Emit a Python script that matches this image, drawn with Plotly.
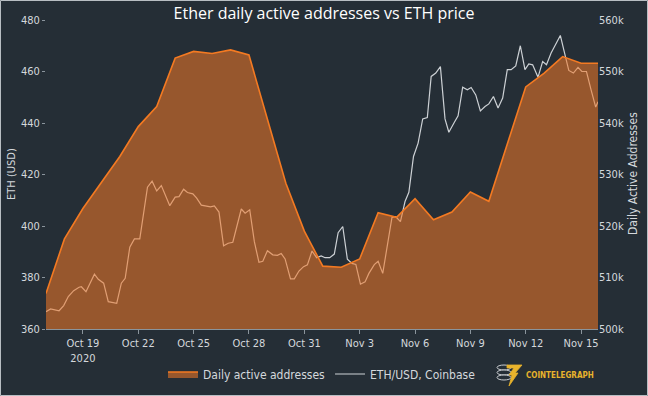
import pandas as pd
import plotly.graph_objects as go

# Daily active addresses (right axis), daily from Oct 17, 2020
daa_dates = ["2020-10-17 00:00", "2020-10-18 00:00", "2020-10-19 00:00", "2020-10-20 00:00", "2020-10-21 00:00",
             "2020-10-22 00:00", "2020-10-23 00:00", "2020-10-24 00:00", "2020-10-25 00:00", "2020-10-26 00:00",
             "2020-10-27 00:00", "2020-10-28 00:00", "2020-10-29 00:00", "2020-10-30 00:00", "2020-10-31 00:00",
             "2020-11-01 00:00", "2020-11-02 00:00", "2020-11-03 00:00", "2020-11-04 00:00", "2020-11-05 00:00",
             "2020-11-06 00:00", "2020-11-07 00:00", "2020-11-08 00:00", "2020-11-09 00:00", "2020-11-10 00:00",
             "2020-11-11 00:00", "2020-11-12 00:00", "2020-11-13 00:00", "2020-11-14 00:00", "2020-11-15 00:00",
             "2020-11-15 22:00"]
daa_values = [506900, 517500, 523400, 528500, 533500, 539300, 543200, 552600, 553900, 553500,
              554200, 553200, 540600, 528300, 519000, 512200, 512000, 513600, 522600, 521700,
              525300, 521200, 522700, 526600, 524800, 535800, 547000, 549700, 552900, 551600,
              551600]

# ETH/USD, Coinbase (left axis): hours after 2020-10-19 00:00 and price
eth_hours = [-48, -42, -31, -25, -19, -12, -5, -2, 4, 15,
             20, 27, 33, 44, 50, 55, 61, 67, 74, 84,
             90, 96, 102, 113, 120, 125, 131, 136, 143, 148,
             154, 166, 171, 177, 183, 189, 195, 206, 211, 217,
             223, 229, 234, 240, 247, 253, 258, 263, 270, 275,
             281, 287, 292, 298, 304, 310, 315, 321, 327, 332,
             338, 344, 350, 355, 361, 367, 372, 379, 384, 390,
             402, 407, 413, 419, 424, 430, 436, 442, 448, 453,
             459, 465, 471, 476, 483, 488, 494, 500, 505, 511,
             517, 523, 528, 534, 540, 546, 552, 557, 563, 569,
             575, 580, 585, 592, 598, 603, 609, 615, 621, 626,
             632, 638, 644, 649, 655, 661, 667, 670]
eth_price = [366.7, 367.8, 367.1, 369.1, 372.6, 374.9, 376.2, 376.4, 374.5, 381.3,
             379.3, 377.8, 370.6, 370.0, 377.8, 379.7, 391.8, 395.0, 395.0, 415.1,
             417.4, 413.6, 415.7, 407.9, 411.2, 411.4, 414.3, 413.0, 412.5, 410.8,
             408.1, 407.4, 407.8, 405.4, 392.3, 393.3, 393.7, 406.6, 405.0, 406.3,
             393.9, 385.9, 386.3, 390.4, 388.8, 388.6, 389.3, 387.2, 379.5, 379.5,
             382.5, 384.2, 384.9, 390.3, 387.7, 388.4, 387.7, 387.7, 389.1, 397.4,
             399.8, 387.1, 385.5, 385.1, 377.4, 378.3, 381.6, 385.0, 386.3, 381.6,
             403.3, 403.6, 401.7, 409.5, 413.1, 427.0, 432.2, 441.6, 442.1, 458.1,
             459.4, 461.9, 441.6, 436.4, 440.2, 442.8, 453.9, 452.9, 453.8, 450.9,
             444.7, 446.4, 447.4, 450.3, 445.8, 449.7, 460.7, 460.7, 462.2, 470.0,
             460.7, 462.9, 462.6, 457.8, 463.9, 462.6, 467.2, 470.8, 474.0, 467.8,
             460.4, 459.4, 461.6, 460.0, 460.0, 452.9, 446.2, 448.3]

left_ticks = [360, 380, 400, 420, 440, 460, 480]
right_ticks = [500000, 510000, 520000, 530000, 540000, 550000, 560000]
right_labels = ["500k", "510k", "520k", "530k", "540k", "550k", "560k"]

eth_times = pd.Timestamp("2020-10-19") + pd.to_timedelta(eth_hours, unit="h")
daa_times = pd.to_datetime(daa_dates, format="%Y-%m-%d %H:%M")

W, H = 648, 396
ML, MR, MT, MB = 46, 50, 20, 67
PW, PH = W - ML - MR, H - MT - MB


def px(x):
    return (x - ML) / PW


def py(y):
    return (H - MB - y) / PH


BG = "#252e36"
TXT = "#d4d8dc"
GOLD = "#e8b32c"
FONT = "Tahoma, 'DejaVu Sans Condensed', 'Liberation Sans', sans-serif"

fig = go.Figure()
fig.add_trace(go.Scatter(
    x=eth_times, y=eth_price, mode="lines", name="ETH/USD, Coinbase",
    line=dict(color="rgb(205,209,213)", width=1.2), yaxis="y", legendrank=2,
))
fig.add_trace(go.Scatter(
    x=daa_times, y=daa_values, mode="lines", name="Daily active addresses",
    line=dict(color="#f47a22", width=1.6), fill="tozeroy",
    fillcolor="rgba(240,120,40,0.56)", yaxis="y2", legendrank=1,
))

fig.update_layout(
    width=W, height=H,
    paper_bgcolor=BG, plot_bgcolor=BG,
    margin=dict(l=ML, r=MR, t=MT, b=MB, autoexpand=False),
    font=dict(family=FONT, size=11, color=TXT),
    title=dict(text="Ether daily active addresses vs ETH price", x=0.5, xanchor="center",
               y=1 - 13 / H, yanchor="middle", yref="container",
               font=dict(family="'Open Sans', sans-serif", size=16, color="#ffffff")),
    xaxis=dict(type="date", range=["2020-10-17", "2020-11-15 22:00"], automargin=False,
               tick0="2020-10-19", dtick=3 * 86400000, ticks="outside", ticklen=4,
               tickcolor="#8a949c", showline=True, linecolor="#8a949c", linewidth=1,
               showgrid=False, zeroline=False, tickfont=dict(size=11, color=TXT)),
    yaxis=dict(range=[360, 480], tickvals=left_ticks, ticks="outside", ticklen=3,
               automargin=False, tickcolor="#8a949c", showgrid=False, zeroline=False,
               showline=False, tickfont=dict(size=11, color=TXT)),
    yaxis2=dict(range=[500000, 560000], tickvals=right_ticks, ticktext=right_labels,
                automargin=False, overlaying="y", side="right", showgrid=False,
                zeroline=False, ticks="", tickfont=dict(size=11, color=TXT)),
    legend=dict(orientation="h", xref="container", yref="container",
                x=322 / W, xanchor="center", y=(H - 374) / H, yanchor="middle",
                bgcolor="rgba(0,0,0,0)", font=dict(size=12, color=TXT),
                itemwidth=30, traceorder="normal"),
    showlegend=True,
)

# axis titles
fig.add_annotation(text="ETH (USD)", xref="paper", yref="paper", x=px(11), y=py(174),
                   textangle=-90, showarrow=False, xanchor="center", yanchor="middle",
                   font=dict(size=11, color=TXT))
fig.add_annotation(text="Daily Active Addresses", xref="paper", yref="paper", x=px(633), y=py(174),
                   textangle=-90, showarrow=False, xanchor="center", yanchor="middle",
                   font=dict(size=12, color=TXT))

# logo: coin stack + bolt + wordmark
for top in (365, 370, 375):
    fig.add_shape(type="circle", xref="paper", yref="paper",
                  x0=px(497), x1=px(511), y0=py(top + 5), y1=py(top),
                  line=dict(color="#c9ccd0", width=1), fillcolor=BG)
fig.add_shape(type="path", xref="paper", yref="paper",
              path=(f"M {px(507)},{py(365)} L {px(522)},{py(365)} L {px(515)},{py(373)} "
                    f"L {px(518)},{py(373)} L {px(509)},{py(386)} L {px(512)},{py(375)} "
                    f"L {px(509)},{py(375)} L {px(514)},{py(368)} L {px(507)},{py(368)} Z"),
              line=dict(color=GOLD, width=0.8), fillcolor=GOLD)
fig.add_annotation(text="<b>COINTELEGRAPH</b>", xref="paper", yref="paper",
                   x=px(524), y=py(375), xanchor="left", yanchor="middle",
                   showarrow=False, font=dict(size=8, color=GOLD,
                                              family="'DejaVu Sans Condensed', sans-serif"))

# thin outer frame
fig.add_shape(type="rect", xref="paper", yref="paper", x0=px(0.5), x1=px(W - 0.5),
              y0=py(H - 0.5), y1=py(0.5), line=dict(color="#b8bec3", width=1))

fig.write_html("out.html", config={"displayModeBar": False},
               post_script="document.body.style.margin='0';document.body.style.overflow='hidden';")
